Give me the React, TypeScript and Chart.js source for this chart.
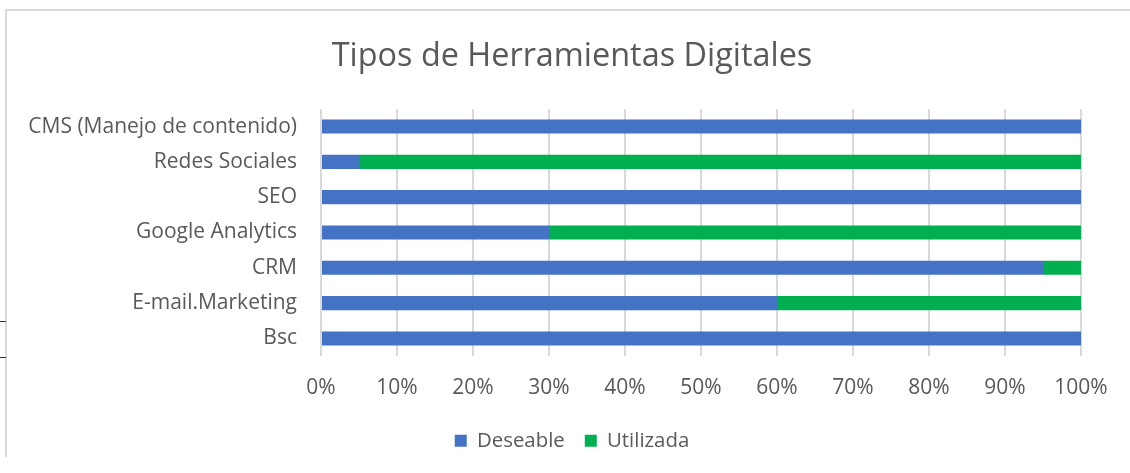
import React, { useEffect, useRef } from "react";
import { Chart, registerables } from "chart.js";

Chart.register(...registerables);

const categories = [
  "CMS (Manejo de contenido)",
  "Redes Sociales",
  "SEO",
  "Google Analytics",
  "CRM",
  "E-mail.Marketing",
  "Bsc",
];
const deseable = [100, 5, 100, 30, 95, 60, 100];
const utilizada = [0, 95, 0, 70, 5, 40, 0];
const seriesNames = ["Deseable", "Utilizada"];
const titleText = "Tipos de Herramientas Digitales";

const FONT = "'Open Sans', Lato, sans-serif";
const GRAY = "#595959";

// let the long category labels extend past the (shifted) y-axis box without clipping
const unclipLabels = {
  id: "unclipLabels",
  afterLayout(chart: any) {
    if (chart.scales.y) chart.scales.y.left = 0;
  },
};

export default function App() {
  const ref = useRef<HTMLCanvasElement | null>(null);

  useEffect(() => {
    if (!ref.current) return;
    const chart = new Chart(ref.current, {
      type: "bar",
      data: {
        labels: categories,
        datasets: [
          {
            label: seriesNames[0],
            data: deseable,
            backgroundColor: "#4472C4",
            barPercentage: 0.8,
            categoryPercentage: 0.5,
          },
          {
            label: seriesNames[1],
            data: utilizada,
            backgroundColor: "#00B050",
            barPercentage: 0.8,
            categoryPercentage: 0.5,
          },
        ],
      },
      plugins: [unclipLabels],
      options: {
        indexAxis: "y",
        responsive: false,
        animation: false,
        layout: { padding: { left: 63, right: 49, top: 0, bottom: 12 } },
        plugins: {
          title: {
            display: true,
            text: titleText,
            color: GRAY,
            font: { family: FONT, size: 32.4, weight: "normal" },
            padding: { top: 37, bottom: 33 },
          },
          legend: {
            position: "bottom",
            labels: {
              color: GRAY,
              font: { family: FONT, size: 20.4 },
              boxWidth: 12,
              boxHeight: 12,
              padding: 20,
            },
          },
          tooltip: { enabled: false },
        },
        scales: {
          x: {
            stacked: true,
            min: 0,
            max: 100,
            ticks: {
              stepSize: 10,
              color: GRAY,
              font: { family: FONT, size: 21 },
              padding: 19,
              callback: (v: any) => `${v}%`,
              maxRotation: 0,
            },
            grid: { color: "#D9D9D9", lineWidth: 2, drawTicks: false },
            border: { display: false },
            afterFit: (s: any) => {
              s.height = 54.5;
            },
          },
          y: {
            stacked: true,
            ticks: {
              color: GRAY,
              font: { family: FONT, size: 21 },
              padding: 24,
            },
            grid: { display: false, drawTicks: false },
            border: { display: false },
            afterFit: (s: any) => {
              s.width = 321 - 63;
            },
          },
        },
      },
    });
    return () => chart.destroy();
  }, []);

  return (
    <div style={{ position: "absolute", left: 0, top: 0, width: 1130, height: 473, background: "#fff", overflow: "hidden" }}>
      <div style={{ position: "absolute", left: 5, top: 9, width: 1200, height: 446, borderTop: "2px solid #D9D9D9", borderLeft: "2px solid #D9D9D9" }} />
      <div style={{ position: "absolute", left: 0, top: 321, width: 6, height: 1, background: "#333" }} />
      <div style={{ position: "absolute", left: 0, top: 357, width: 6, height: 1, background: "#333" }} />
      <canvas ref={ref} width={1130} height={473} style={{ position: "absolute", left: 0, top: 0 }} />
    </div>
  );
}
